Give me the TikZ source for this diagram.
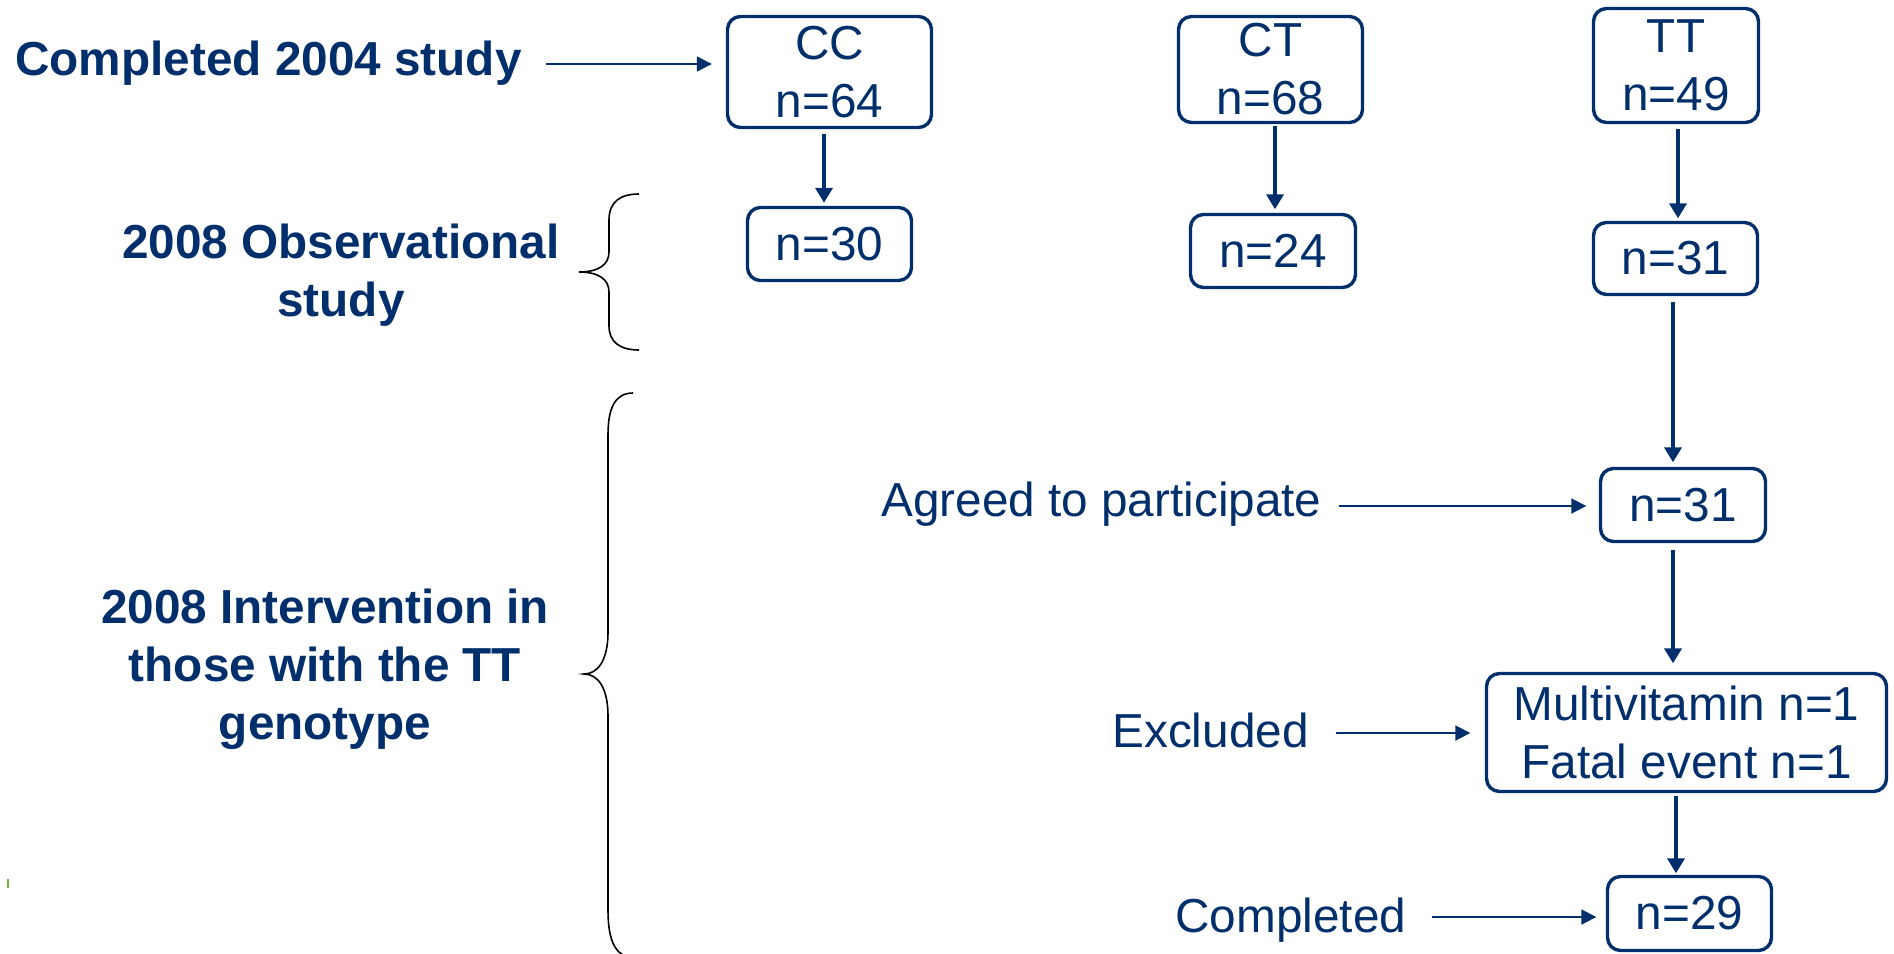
\documentclass[tikz,border=0pt]{standalone}
\usepackage{fontspec}
\setmainfont{Liberation Sans}
\usetikzlibrary{arrows.meta,calc}
\definecolor{navy}{RGB}{0,47,108}
\definecolor{markgreen}{RGB}{110,190,60}
\begin{document}
\begin{tikzpicture}[x=0.5pt,y=-0.5pt,
  txt/.style={inner sep=0pt, text=navy, font=\fontsize{23.85pt}{29pt}\selectfont},
  btxt/.style={inner sep=0pt, text=navy, align=center, font=\fontsize{23.85pt}{29pt}\selectfont\bfseries},
  box/.style={draw=navy, line width=1.7pt, rounded corners=6.5pt, inner sep=0pt,
    text=navy, align=center, font=\fontsize{23.85pt}{29pt}\selectfont},
  varr/.style={draw=navy, line width=2.2pt, -{Triangle[width=8.5pt,length=7.5pt]}},
  harr/.style={draw=navy, line width=0.9pt, -{Triangle[width=7.5pt,length=7.5pt]}},
  bracepath/.style={draw=black, line width=0.8pt}
]
\useasboundingbox (0,0) rectangle (1894,953);
\clip (0,0) rectangle (1894,953);

% boxes
\node[box, minimum width=102pt, minimum height=55.5pt] (cc) at (829.5,72) {CC\\n=64};
\node[box, minimum width=82pt, minimum height=36.5pt] (n30) at (829.5,244) {n=30};
\node[box, minimum width=92pt, minimum height=53pt] (ct) at (1270.5,69.5) {CT\\n=68};
\node[box, minimum width=82.5pt, minimum height=36.5pt] (n24) at (1273,251) {n=24};
\node[box, minimum width=82.5pt, minimum height=57pt] (tt) at (1676,65.5) {TT\\n=49};
\node[box, minimum width=82pt, minimum height=36pt] (n31a) at (1675.5,258.5) {n=31};
\node[box, minimum width=82.5pt, minimum height=36.5pt] (n31b) at (1683,505) {n=31};
\node[box, minimum width=200pt, minimum height=59pt] (mv) at (1686.5,732.5) {Multivitamin n=1\\Fatal event n=1};
\node[box, minimum width=82pt, minimum height=37pt] (n29) at (1689.5,913.5) {n=29};

% labels (base anchor of a multi-line node = baseline of its last line)
\node[btxt, anchor=base west] (c2004) at (15,75) {Completed 2004 study};
\node[btxt, anchor=base] (obs) at (341,316) {2008 Observational\\study};
\node[btxt, anchor=base] (interv) at (325,739) {2008 Intervention in\\those with the TT\\genotype};
\node[txt, anchor=base west] (agreed) at (881,516) {Agreed to participate};
\node[txt, anchor=base west] (excl) at (1112,747) {Excluded};
\node[txt, anchor=base west] (compl) at (1175,932) {Completed};

% vertical arrows
\draw[varr] ($(cc.south)+(-5.5,4.5)$) -- ($(n30.north -| cc.south)+(-5.5,-3)$);
\draw[varr] ($(ct.south)+(4.5,1.5)$) -- ($(n24.north -| ct.south)+(4.5,-3.5)$);
\draw[varr] ($(tt.south)+(2,4.5)$) -- ($(n31a.north -| tt.south)+(2,-2.5)$);
\draw[varr] ($(n31a.south)+(-2.5,5.5)$) -- ($(n31b.north -| n31a.south)+(-2.5,-4.5)$);
\draw[varr] ($(n31b.south)+(-10,6.5)$) -- ($(mv.north -| n31b.south)+(-10,-8.5)$);
\draw[varr] ($(mv.south)+(-10.5,2.5)$) -- ($(n29.north -| mv.south)+(-10.5,-1.5)$);

% horizontal arrows
\draw[harr] ($(c2004.base east)+(24,-11)$) -- ($(cc.west |- c2004.base east)+(-14,-11)$);
\draw[harr] ($(agreed.base east)+(17,-10)$) -- ($(n31b.west |- agreed.base east)+(-12.5,-10)$);
\draw[harr] ($(excl.base east)+(27,-14)$) -- ($(mv.west |- excl.base east)+(-14.5,-14)$);
\draw[harr] ($(compl.base east)+(26,-15)$) -- ($(n29.west |- compl.base east)+(-9.5,-15)$);

% braces
\draw[bracepath] (639,194) .. controls (620,194) and (609,202) .. (609,220)
  -- (609,252) .. controls (609,265) and (598,272) .. (579,272)
  .. controls (598,272) and (609,279) .. (609,292)
  -- (609,326) .. controls (609,342) and (620,350) .. (639,350);
\draw[bracepath] (633,393) .. controls (615,393) and (608,408) .. (608,435)
  -- (608,632) .. controls (608,660) and (598,674) .. (584,674)
  .. controls (598,674) and (608,688) .. (608,716)
  -- (608,910) .. controls (608,940) and (615,957) .. (633,957);

% small green mark
\draw[markgreen, line width=0.6pt] (8,879) -- (8,888);
\end{tikzpicture}
\end{document}
